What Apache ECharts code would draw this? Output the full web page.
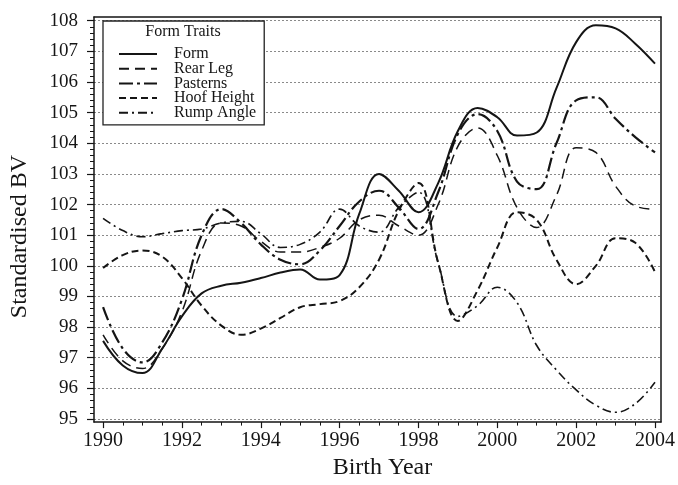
<!DOCTYPE html>
<html>
<head>
<meta charset="utf-8">
<script src="https://cdn.jsdelivr.net/npm/echarts@6/dist/echarts.min.js"></script>
<style>
  html, body { margin: 0; padding: 0; background: #fff; }
  #chart { width: 678px; height: 485px; }
</style>
</head>
<body>
<div id="chart"></div>
<script>
// birth years, half-year steps
const years = [1990, 1990.5, 1991, 1991.5, 1992, 1992.5, 1993, 1993.5, 1994, 1994.5,
  1995, 1995.5, 1996, 1996.5, 1997, 1997.5, 1998, 1998.5, 1999, 1999.5,
  2000, 2000.5, 2001, 2001.5, 2002, 2002.5, 2003, 2003.5, 2004];

const form = [97.55, 96.75, 96.5, 97.3, 98.35, 99.1, 99.35, 99.45, 99.6, 99.78,
  99.88, 99.55, 99.7, 101.7, 103.0, 102.45, 101.75, 102.7, 104.4, 105.15,
  104.85, 104.25, 104.35, 105.8, 107.3, 107.85, 107.75, 107.25, 106.6];
const rearLeg = [97.75, 96.9, 96.65, 97.3, 98.5, 100.5, 101.4, 101.3, 100.8, 100.45,
  100.45, 100.6, 100.9, 101.5, 101.65, 101.3, 101.0, 102.0, 103.9, 104.5,
  103.6, 101.9, 101.25, 102.3, 103.85, 103.7, 102.6, 101.95, 101.85];
const pasterns = [98.65, 97.3, 96.85, 97.5, 98.9, 101.0, 101.85, 101.4, 100.7, 100.2,
  100.05, 100.5, 101.3, 102.1, 102.45, 101.9, 101.2, 102.4, 104.3, 104.95,
  104.4, 102.75, 102.5, 104.0, 105.4, 105.5, 104.8, 104.2, 103.7];
const hoofHeight = [99.93, 100.35, 100.5, 100.3, 99.6, 98.7, 98.05, 97.75, 97.95, 98.3,
  98.65, 98.75, 98.85, 99.3, 100.2, 101.8, 102.7, 100.1, 98.2, 99.2,
  100.6, 101.75, 101.5, 100.2, 99.4, 100.0, 100.9, 100.75, 99.8];
const rumpAngle = [101.55, 101.15, 100.95, 101.05, 101.15, 101.2, 101.4, 101.45, 101.05, 100.6,
  100.7, 101.1, 101.85, 101.3, 101.1, 101.9, 102.4, 100.1, 98.35, 98.7,
  99.3, 98.8, 97.4, 96.6, 95.95, 95.45, 95.22, 95.5, 96.2];

const xTicks = [1990, 1992, 1994, 1996, 1998, 2000, 2002, 2004];
const yTicks = [95, 96, 97, 98, 99, 100, 101, 102, 103, 104, 105, 106, 107, 108];

const X_MIN = 1989.77, X_MAX = 2004.15;
const Y_MIN = 94.9, Y_MAX = 108.12;

// minor ticks
const xMinor = [];
for (let v = 1990; v <= 2004; v += 0.5) xMinor.push(v);
const yMinor = [];
for (let v = 95; v <= 108.001; v += 0.2) yMinor.push(Math.round(v * 10) / 10);

const ink = '#151515';
const serif = 'Liberation Serif';

function pairs(vals) {
  return years.map((x, i) => [x, vals[i]]);
}

function line(name, vals, width, dash) {
  return {
    name: name,
    type: 'line',
    data: pairs(vals),
    smooth: 0.4,
    symbol: 'none',
    lineStyle: { color: ink, width: width, type: dash },
    itemStyle: { color: ink },
    z: 3
  };
}

const chart = echarts.init(document.getElementById('chart'));

const option = {
  backgroundColor: '#fff',
  animation: false,
  grid: { left: 94, right: 13, top: 17, bottom: 57 },
  legend: {
    orient: 'vertical',
    left: 103,
    top: 21,
    padding: [25, 8, 4, 15],
    itemWidth: 38,
    itemHeight: 12,
    itemGap: -1.3,
    borderColor: '#222',
    borderWidth: 1.3,
    backgroundColor: '#fff',
    itemStyle: { opacity: 0 },
    textStyle: { fontFamily: serif, fontSize: 16, color: ink, padding: [0, 0, 0, 12] },
    data: ['Form', 'Rear Leg', 'Pasterns', 'Hoof Height', 'Rump Angle']
  },
  graphic: [{
    type: 'text',
    z: 100,
    style: {
      text: 'Form Traits', x: 183, y: 32, align: 'center', verticalAlign: 'middle',
      font: '16px "Liberation Serif"', fill: ink
    }
  }],
  xAxis: [{
    type: 'value', min: X_MIN, max: X_MAX, position: 'bottom',
    name: 'Birth Year', nameLocation: 'middle', nameGap: 31,
    nameTextStyle: { fontFamily: serif, fontSize: 24, color: ink, padding: [0, 0, 0, 10] },
    axisLine: { show: true, lineStyle: { color: ink, width: 1.5 } },
    axisTick: { show: true, customValues: xTicks, length: 6, lineStyle: { color: ink, width: 1.2 } },
    axisLabel: {
      customValues: xTicks, fontFamily: serif, fontSize: 20, color: ink, margin: 9,
      formatter: v => String(v)
    },
    splitLine: { show: false }
  }, {
    type: 'value', min: X_MIN, max: X_MAX, position: 'bottom',
    axisLine: { show: false },
    axisTick: { show: true, customValues: xMinor, length: 3.5, lineStyle: { color: ink, width: 1 } },
    axisLabel: { show: false },
    splitLine: { show: false }
  }, {
    type: 'value', min: X_MIN, max: X_MAX, position: 'top',
    axisLine: { show: true, lineStyle: { color: ink, width: 1.5 } },
    axisTick: { show: false }, axisLabel: { show: false }, splitLine: { show: false }
  }],
  yAxis: [{
    type: 'value', min: Y_MIN, max: Y_MAX, position: 'left',
    name: 'Standardised BV', nameLocation: 'middle', nameGap: 62, nameRotate: 90,
    nameTextStyle: { fontFamily: serif, fontSize: 24, color: ink, padding: [0, 34, 0, 0] },
    axisLine: { show: true, lineStyle: { color: ink, width: 1.5 } },
    axisTick: { show: true, customValues: yTicks, length: 7, lineStyle: { color: ink, width: 1.2 } },
    axisLabel: {
      customValues: yTicks, fontFamily: serif, fontSize: 19, color: ink, margin: 16,
      formatter: v => String(v)
    },
    splitLine: { show: true, lineStyle: { color: '#8a8a8a', width: 1, type: [2, 2] } }
  }, {
    type: 'value', min: Y_MIN, max: Y_MAX, position: 'left',
    axisLine: { show: false },
    axisTick: { show: true, customValues: yMinor, length: 4, lineStyle: { color: ink, width: 1 } },
    axisLabel: { show: false },
    splitLine: { show: false }
  }, {
    type: 'value', min: Y_MIN, max: Y_MAX, position: 'right',
    axisLine: { show: true, lineStyle: { color: ink, width: 1.5 } },
    axisTick: { show: false }, axisLabel: { show: false }, splitLine: { show: false }
  }],
  series: [
    line('Form', form, 2, 'solid'),
    line('Rear Leg', rearLeg, 1.5, [10, 6]),
    line('Pasterns', pasterns, 2.2, [14, 4, 3, 4]),
    line('Hoof Height', hoofHeight, 2, [7, 4]),
    line('Rump Angle', rumpAngle, 1.6, [9, 4, 2, 4])
  ]
};

chart.setOption(option);
</script>
</body>
</html>
